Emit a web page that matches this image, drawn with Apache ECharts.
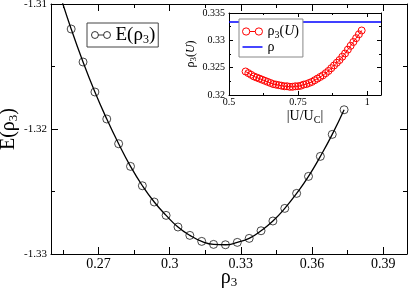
<!DOCTYPE html>
<html><head><meta charset="utf-8">
<script src="https://cdn.jsdelivr.net/npm/echarts@6/dist/echarts.min.js"></script>
<style>html,body{margin:0;padding:0;background:#fff}#c{width:409px;height:288px}</style>
</head><body><div id="c"></div>
<script>
// ---- data ----
const rho3 = [0.2585,0.2635,0.2685,0.2735,0.2785,0.2835,0.2885,0.2935,0.2985,0.3035,0.3085,0.3135,
              0.3185,0.3235,0.3285,0.3335,0.3385,0.3435,0.3485,0.3535,0.3585,0.3635,0.3685,0.3735];
const energy = [-1.3120,-1.31464,-1.31704,-1.3192,-1.32118,-1.32299,-1.32454,-1.32584,-1.32691,-1.32784,-1.32851,-1.32899,
                -1.32923,-1.32926,-1.32907,-1.32875,-1.32814,-1.32736,-1.32635,-1.32515,-1.32379,-1.32219,-1.32043,-1.31846];
// fitted curve: same points plus where the line leaves the top of the frame
const fitRho3 = [0.2535].concat(rho3);
const fitEnergy = [-1.3091].concat(energy);
const uRatio = [0.56,0.57,0.58,0.59,0.60,0.61,0.62,0.63,0.64,0.65,0.66,0.67,0.68,0.69,0.70,0.71,0.72,0.73,0.74,0.75,0.76,
                0.77,0.78,0.79,0.80,0.81,0.82,0.83,0.84,0.85,0.86,0.87,0.88,0.89,0.90,0.91,0.92,0.93,0.94,0.95,0.96,0.97,0.98];
const rho3U = [0.3243,0.3240,0.3237,0.3234,0.3232,0.3230,0.3228,0.3226,0.3224,0.3222,0.3220,0.3219,0.3218,0.3217,0.3216,
               0.3216,0.3215,0.3215,0.3216,0.3216,0.3217,0.3219,0.3220,0.3222,0.3224,0.3227,0.3230,0.3233,0.3236,0.3240,
               0.3244,0.3249,0.3254,0.3259,0.3264,0.3270,0.3276,0.3283,0.3290,0.3297,0.3304,0.3311,0.3318];
const rhoLevel = [1/3, 1/3];
const rhoLevelX = [0.5, 1.05];
const mainXTicks = [0.27, 0.3, 0.33, 0.36, 0.39];
const mainXMinor = [0.255, 0.285, 0.315, 0.345, 0.375];

const F = "'Liberation Serif','Times New Roman',serif";
const chart = echarts.init(document.getElementById('c'), null, {renderer:'canvas'});

const black = '#000';
function xAx(o){ return Object.assign({type:'value', splitLine:{show:false}, axisLine:{onZero:false, lineStyle:{color:black,width:1}},
  axisTick:{inside:true, lineStyle:{color:black}}, axisLabel:{show:false}}, o); }
function yAx(o){ return xAx(o); }

const mainRich = {
  a:{fontFamily:F, fontSize:19, color:black, lineHeight:22},
  s:{fontFamily:F, fontSize:12, color:black, lineHeight:22, padding:[10,0,0,0]}
};
const axisRich = {
  a:{fontFamily:F, fontSize:20, color:black, lineHeight:22},
  s:{fontFamily:F, fontSize:13, color:black, lineHeight:22, padding:[10,0,0,0]}
};
const insetRich = {
  a:{fontFamily:F, fontSize:14, color:black, lineHeight:14},
  i:{fontFamily:F, fontSize:14, color:black, lineHeight:14, fontStyle:'italic'},
  s:{fontFamily:F, fontSize:10, color:black, lineHeight:14, padding:[7,0,0,0]}
};
const insetTitleRich = {
  a:{fontFamily:F, fontSize:12, color:black, lineHeight:14},
  i:{fontFamily:F, fontSize:12, color:black, lineHeight:14, fontStyle:'italic'},
  s:{fontFamily:F, fontSize:9, color:black, lineHeight:14, padding:[6,0,0,0]}
};
const labelMap = {
  'E(ρ3)':'{a|E(ρ}{s|3}{a|)}',
  'ρ3(U)':'{a|ρ}{s|3}{a|(}{i|U}{a|)}',
  'ρ':'{a|ρ}'
};
const oo = 'path://M0 4A4 4 0 1 1 8 4A4 4 0 1 1 0 4ZM8 4L14 4M14 4A4 4 0 1 1 22 4A4 4 0 1 1 14 4Z';
const bar = 'path://M0 0M0 3.2L22 3.2L22 4.8L0 4.8ZM22 8';

const option = {
  animation:false,
  backgroundColor:'#fff',
  grid:[
    {left:51, right:2, top:4, bottom:34, outerBoundsMode:'none'},
    {left:229, top:13, width:152, height:82, show:true, backgroundColor:'#fff', borderWidth:0, outerBoundsMode:'none'}
  ],
  xAxis:[
    xAx({gridIndex:0, position:'bottom', min:0.25, max:0.40,
      axisTick:{inside:true, length:7, customValues:mainXTicks, lineStyle:{color:black}},
      axisLabel:{show:true, customValues:mainXTicks, fontFamily:F, fontSize:14, color:black, margin:3},
      name:'{a|ρ}{s|3}', nameLocation:'middle', nameGap:13, nameMoveOverlap:false, nameTextStyle:{rich:axisRich}}),
    xAx({gridIndex:0, position:'bottom', min:0.25, max:0.40, axisLine:{show:false, onZero:false},
      axisTick:{inside:true, length:4, customValues:mainXMinor, lineStyle:{color:black}}}),
    xAx({gridIndex:0, position:'top', min:0.25, max:0.40,
      axisTick:{inside:true, length:7, customValues:mainXTicks, lineStyle:{color:black}}}),
    xAx({gridIndex:0, position:'top', min:0.25, max:0.40, axisLine:{show:false, onZero:false},
      axisTick:{inside:true, length:4, customValues:mainXMinor, lineStyle:{color:black}}}),
    xAx({gridIndex:1, position:'bottom', min:0.5, max:1.05, interval:0.25,
      axisTick:{inside:true, length:4, lineStyle:{color:black}},
      minorTick:{show:true, splitNumber:2, length:2, lineStyle:{color:black}},
      axisLabel:{show:true, fontFamily:F, fontSize:10, color:black, margin:2, showMaxLabel:false},
      name:'{a||U/U}{s|C}{a||}', nameLocation:'middle', nameGap:9, nameTextStyle:{rich:insetRich}}),
    xAx({gridIndex:1, position:'top', min:0.5, max:1.05, interval:0.25,
      axisTick:{inside:true, length:4, lineStyle:{color:black}},
      minorTick:{show:true, splitNumber:2, length:2, lineStyle:{color:black}}})
  ],
  yAxis:[
    yAx({gridIndex:0, position:'left', min:-1.33, max:-1.31, interval:0.01,
      axisTick:{inside:true, length:7, lineStyle:{color:black}},
      minorTick:{show:true, splitNumber:2, length:4, lineStyle:{color:black}},
      axisLabel:{show:true, fontFamily:F, fontSize:11, color:black, margin:4},
      name:'{a|E(ρ}{s|3}{a|)}', nameLocation:'middle', nameGap:31, nameMoveOverlap:false, nameTextStyle:{rich:axisRich}}),
    yAx({gridIndex:0, position:'right', min:-1.33, max:-1.31, interval:0.01,
      axisTick:{inside:true, length:7, lineStyle:{color:black}},
      minorTick:{show:true, splitNumber:2, length:4, lineStyle:{color:black}}}),
    yAx({gridIndex:1, position:'left', min:0.32, max:0.335, interval:0.005,
      axisTick:{inside:true, length:4, lineStyle:{color:black}},
      minorTick:{show:true, splitNumber:2, length:2, lineStyle:{color:black}},
      axisLabel:{show:true, fontFamily:F, fontSize:10, color:black, margin:4},
      name:'{a|ρ}{s|3}{a|(}{i|U}{a|)}', nameLocation:'middle', nameGap:20, nameTextStyle:{rich:insetTitleRich}}),
    yAx({gridIndex:1, position:'right', min:0.32, max:0.335, interval:0.005,
      axisTick:{inside:true, length:4, lineStyle:{color:black}},
      minorTick:{show:true, splitNumber:2, length:2, lineStyle:{color:black}}})
  ],
  legend:[
    {left:87, top:23, orient:'vertical', selectedMode:false, itemWidth:19, itemHeight:7, itemGap:0,
     padding:[1,3,1,4], backgroundColor:'#fff', borderColor:'#444', borderWidth:1,
     data:[{name:'E(ρ3)', icon:oo, itemStyle:{color:'rgba(0,0,0,0)', borderColor:black, borderWidth:1}}],
     formatter:n=>labelMap[n], textStyle:{fontFamily:F, fontSize:19, color:black, rich:mainRich}},
    {left:239, top:19, orient:'vertical', selectedMode:false, itemWidth:20, itemHeight:8, itemGap:0,
     padding:[4,4,3,3], backgroundColor:'#fff', borderColor:'#888', borderWidth:1,
     data:[{name:'ρ3(U)', icon:oo, itemStyle:{color:'rgba(0,0,0,0)', borderColor:'#ff0000', borderWidth:1}},
           {name:'ρ', icon:bar, itemStyle:{color:'#0000ff', borderWidth:0}}],
     formatter:n=>labelMap[n], textStyle:{fontFamily:F, fontSize:14, color:black, rich:insetRich}}
  ],
  series:[
    {type:'line', name:'fit', xAxisIndex:0, yAxisIndex:0, data:fitRho3.map((x,i)=>[x,fitEnergy[i]]),
     smooth:true, symbol:'none', lineStyle:{color:black, width:1.3}, silent:true, z:2},
    {type:'scatter', name:'E(ρ3)', xAxisIndex:0, yAxisIndex:0, data:rho3.map((x,i)=>[x,energy[i]]),
     symbol:'circle', symbolSize:8, itemStyle:{color:'rgba(0,0,0,0)', borderColor:black, borderWidth:0.9}, z:3},
    {type:'line', name:'ρ', xAxisIndex:4, yAxisIndex:2, data:rhoLevelX.map((x,i)=>[x,rhoLevel[i]]),
     symbol:'none', lineStyle:{color:'#0000ff', width:1.5}, z:2},
    {type:'line', name:'ρ3(U)', xAxisIndex:4, yAxisIndex:2, data:uRatio.map((x,i)=>[x,rho3U[i]]),
     symbol:'circle', symbolSize:7, showAllSymbol:true,
     itemStyle:{color:'rgba(0,0,0,0)', borderColor:'#ff0000', borderWidth:1},
     lineStyle:{color:'#ff0000', width:1}, z:3}
  ]
};
chart.setOption(option);
</script></body></html>
